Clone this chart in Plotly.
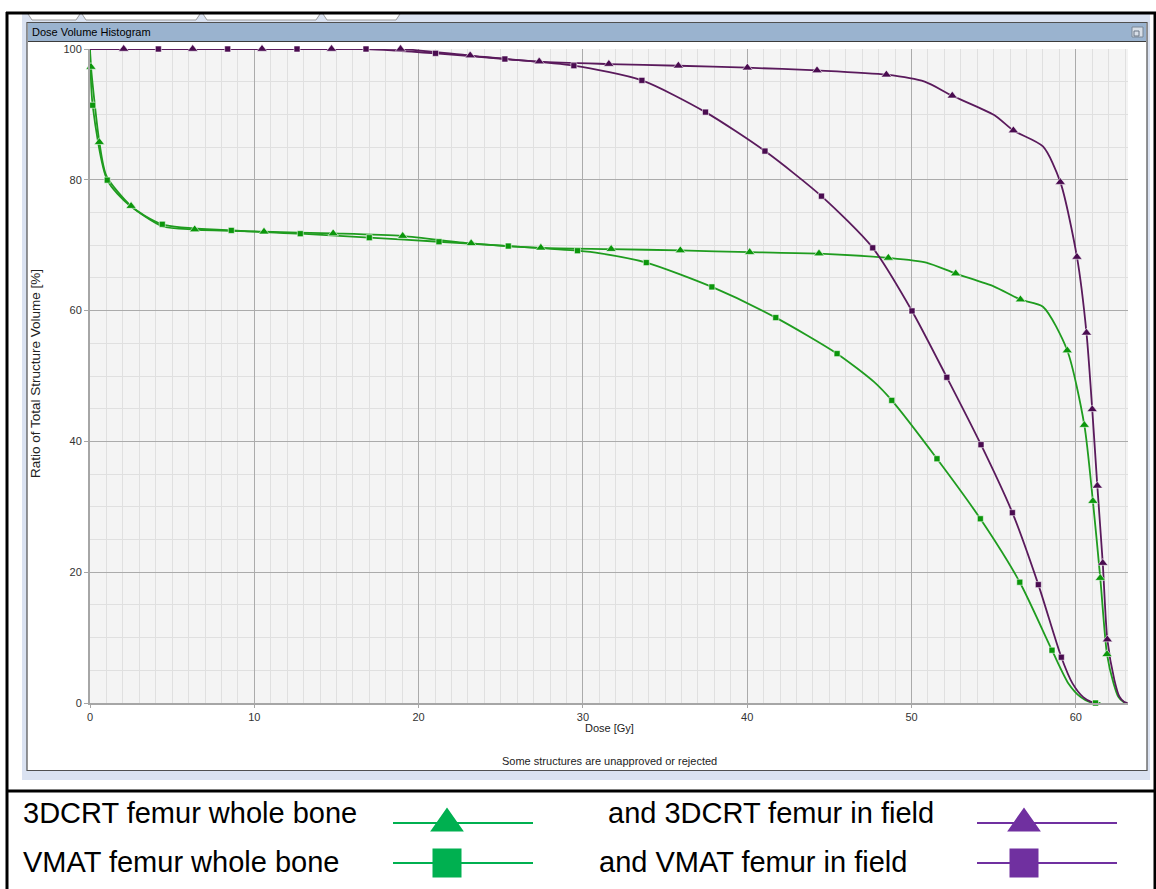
import plotly.graph_objects as go

# ---------------- data ----------------
# 3DCRT femur whole bone (green, triangles)
crt_whole_mk_dose = [0.06, 0.57, 2.5, 6.37, 10.59, 14.8, 19.03, 23.2, 27.44, 31.72, 35.93, 40.15,
                     44.37, 48.59, 52.69, 56.63, 59.48, 60.52, 61.04, 61.49, 61.9]
crt_whole_mk_vol = [97.25, 85.75, 75.98, 72.4, 72.06, 71.8, 71.4, 70.28, 69.6, 69.4, 69.2, 68.93,
                    68.72, 68.06, 65.66, 61.68, 53.9, 42.5, 30.87, 19.1, 7.45]
crt_whole_ex_dose = [0.0, 1.0, 4.4, 50.9, 55.03, 58.0, 62.3, 62.6, 62.9, 63.1]
crt_whole_ex_vol = [100.0, 80.6, 72.9, 67.35, 63.67, 60.6, 3.0, 0.9, 0.15, 0.0]

# VMAT femur whole bone (green, squares)
vmat_whole_mk_dose = [0.16, 1.05, 4.4, 8.6, 12.8, 17.0, 21.24, 25.46, 29.67, 33.86, 37.85, 41.74,
                      45.47, 48.8, 51.55, 54.19, 56.59, 58.55, 61.2]
vmat_whole_mk_vol = [91.4, 79.95, 73.2, 72.26, 71.76, 71.15, 70.53, 69.87, 69.16, 67.34, 63.62, 58.93,
                     53.42, 46.27, 37.35, 28.17, 18.47, 8.07, 0.0]
vmat_whole_ex_dose = [0.0, 2.4, 31.06, 47.72, 59.55, 60.3, 60.9, 61.5]
vmat_whole_ex_vol = [100.0, 76.1, 68.75, 49.1, 3.0, 0.9, 0.1, 0.0]

# 3DCRT femur in field (purple, triangles)
crt_field_mk_dose = [2.05, 6.25, 10.47, 14.7, 18.9, 23.14, 27.34, 31.58, 35.81, 40.01, 44.25, 48.47,
                     52.48, 56.2, 59.06, 60.07, 60.65, 61.0, 61.31, 61.64, 61.92]
crt_field_mk_vol = [100.0, 100.0, 100.0, 100.0, 100.0, 99.0, 98.07, 97.7, 97.44, 97.14, 96.72, 96.07,
                    92.85, 87.54, 79.64, 68.2, 56.6, 44.9, 33.2, 21.4, 9.7]
crt_field_ex_dose = [0.0, 50.8, 55.03, 58.0, 62.35, 62.65, 62.95, 63.15]
crt_field_ex_vol = [100.0, 95.0, 89.9, 85.1, 3.5, 1.0, 0.15, 0.0]

# VMAT femur in field (purple, squares)
vmat_field_mk_dose = [4.16, 8.38, 12.6, 16.8, 21.03, 25.25, 29.45, 33.59, 37.46, 41.08, 44.52, 47.64,
                      50.03, 52.15, 54.23, 56.14, 57.72, 59.12]
vmat_field_mk_vol = [100.0, 100.0, 100.0, 100.0, 99.34, 98.47, 97.45, 95.2, 90.35, 84.39, 77.5, 69.6,
                     59.95, 49.8, 39.5, 29.1, 18.1, 7.0]
vmat_field_ex_dose = [0.0, 59.8, 60.45, 61.0, 61.2]
vmat_field_ex_vol = [100.0, 3.0, 0.9, 0.1, 0.0]

x_tick_vals = [0, 10, 20, 30, 40, 50, 60]
y_tick_vals = [0, 20, 40, 60, 80, 100]

legend_labels = ["3DCRT femur whole bone", "VMAT femur whole bone",
                 "and 3DCRT femur in field", "and VMAT femur in field"]

# ---------------- styling ----------------
GREEN_LINE = "#1f9c1f"
GREEN_MK = "#0b960b"
PURPLE_LINE = "#5a1a5c"
PURPLE_MK = "#4a0c50"
LEG_GREEN = "#00b050"
LEG_PURPLE = "#7030a0"
FONT = "Liberation Sans, Arial, sans-serif"

W, H = 1156, 889
L, R, T, B = 90, 28, 49, 186
PW = W - L - R
PH = H - T - B


def px(x):
    return (x - L) / PW


def py(y):
    return (H - B - y) / PH


def merged(d1, v1, d2, v2):
    pts = sorted(zip(list(d1) + list(d2), list(v1) + list(v2)))
    return [p[0] for p in pts], [p[1] for p in pts]


series = [
    (crt_whole_mk_dose, crt_whole_mk_vol, crt_whole_ex_dose, crt_whole_ex_vol, GREEN_LINE, GREEN_MK, "triangle-up", 9),
    (vmat_whole_mk_dose, vmat_whole_mk_vol, vmat_whole_ex_dose, vmat_whole_ex_vol, GREEN_LINE, GREEN_MK, "square", 6),
    (crt_field_mk_dose, crt_field_mk_vol, crt_field_ex_dose, crt_field_ex_vol, PURPLE_LINE, PURPLE_MK, "triangle-up", 9),
    (vmat_field_mk_dose, vmat_field_mk_vol, vmat_field_ex_dose, vmat_field_ex_vol, PURPLE_LINE, PURPLE_MK, "square", 6),
]

fig = go.Figure()
for mkd, mkv, exd, exv, lc, mc, sym, sz in series:
    xd, yd = merged(mkd, mkv, exd, exv)
    fig.add_trace(go.Scatter(x=xd, y=yd, mode="lines",
                             line=dict(color=lc, width=1.8, shape="spline", smoothing=0.7),
                             showlegend=False, hoverinfo="skip"))
for mkd, mkv, exd, exv, lc, mc, sym, sz in series:
    fig.add_trace(go.Scatter(x=mkd, y=mkv, mode="markers", cliponaxis=False,
                             marker=dict(symbol=sym, size=sz, color=mc,
                                         line=dict(color="rgba(255,255,255,0.7)", width=0.8)),
                             showlegend=False))

shapes = []
ann = []


def rect(x0, y0, x1, y1, fill=None, line=None, lw=1):
    shapes.append(dict(type="rect", xref="paper", yref="paper",
                       x0=px(x0), x1=px(x1), y0=py(y0), y1=py(y1),
                       fillcolor=fill if fill else "rgba(0,0,0,0)",
                       line=dict(color=line if line else "rgba(0,0,0,0)", width=lw),
                       layer="below"))


def hline(x0, x1, y, color, w):
    shapes.append(dict(type="line", xref="paper", yref="paper",
                       x0=px(x0), x1=px(x1), y0=py(y), y1=py(y),
                       line=dict(color=color, width=w), layer="above"))


def vline(x, y0, y1, color, w):
    shapes.append(dict(type="line", xref="paper", yref="paper",
                       x0=px(x), x1=px(x), y0=py(y0), y1=py(y1),
                       line=dict(color=color, width=w), layer="above"))


# screenshot surroundings (strips that do not cover the plot area)
STRIP = "#dae2f1"
rect(22, 14, 1150, 23, fill=STRIP)
rect(22, 23, 27, 780, fill=STRIP)
rect(1147, 23, 1150, 780, fill=STRIP)
rect(22, 771, 1150, 780, fill=STRIP)
# tabs
for a, b in [(28, 80), (82, 200), (203, 320), (323, 400)]:
    shapes.append(dict(type="path", xref="paper", yref="paper",
                       path="M %f %f L %f %f L %f %f L %f %f" % (px(a), py(14), px(a + 4), py(20),
                                                               px(b - 4), py(20), px(b), py(14)),
                       line=dict(color="#9a9a9a", width=1), fillcolor="#ffffff", layer="below"))
# window frame + title bar
rect(28, 23, 1146, 41, fill="#9ab3cf")
hline(28, 1146, 41.5, "#3c3c3c", 1)
rect(27, 22.5, 1147, 770.5, line="#505050", lw=1.2)
# restore icon
rect(1132, 27, 1143, 37, fill="#d8dfe8", line="#7a8796", lw=1)
rect(1134, 31, 1139, 36, line="#6a7686", lw=1)

# outer table borders
vline(7, 12, 889, "#000000", 3)
vline(1155, 12, 889, "#000000", 3)
hline(6, 1156, 13, "#000000", 3)
hline(6, 1156, 791, "#000000", 3)

# ---------- legend table ----------
leg_rows = [823, 863]
glyphs = [
    (393, 533, 447, leg_rows[0], LEG_GREEN, "tri"),
    (393, 533, 447, leg_rows[1], LEG_GREEN, "sq"),
    (977, 1117, 1024, leg_rows[0], LEG_PURPLE, "tri"),
    (977, 1117, 1024, leg_rows[1], LEG_PURPLE, "sq"),
]
for x0, x1, cx, cy, col, kind in glyphs:
    hline(x0, x1, cy, col, 1.8)
    if kind == "tri":
        shapes.append(dict(type="path", xref="paper", yref="paper",
                           path="M %f %f L %f %f L %f %f Z" % (px(cx - 14), py(cy + 7), px(cx), py(cy - 13),
                                                              px(cx + 14), py(cy + 7)),
                           fillcolor=col, line=dict(color=col, width=3), layer="above"))
    else:
        shapes.append(dict(type="rect", xref="paper", yref="paper",
                           x0=px(cx - 13.5), x1=px(cx + 13.5), y0=py(cy - 13.5), y1=py(cy + 13.5),
                           fillcolor=col, line=dict(color=col, width=2), layer="above"))

leg_pos = [(21, 813), (21, 862), (606, 813), (597, 862)]
for (x, y), lab in zip(leg_pos, legend_labels):
    ann.append(dict(xref="paper", yref="paper", x=px(x), y=py(y), xanchor="left", yanchor="middle",
                    text=lab, showarrow=False, font=dict(family=FONT, size=29, color="#000000")))

# ---------- chart texts ----------
ann.append(dict(xref="paper", yref="paper", x=px(30), y=py(32), xanchor="left", yanchor="middle",
                text="Dose Volume Histogram", showarrow=False, font=dict(family=FONT, size=11, color="#000")))
ann.append(dict(xref="paper", yref="paper", x=px(609), y=py(727.5), xanchor="center", yanchor="middle",
                text="Dose [Gy]", showarrow=False, font=dict(family=FONT, size=11, color="#222")))
ann.append(dict(xref="paper", yref="paper", x=px(609), y=py(761), xanchor="center", yanchor="middle",
                text="Some structures are unapproved or rejected", showarrow=False,
                font=dict(family=FONT, size=11, color="#222")))
ann.append(dict(xref="paper", yref="paper", x=px(35), y=py(374), xanchor="center", yanchor="middle",
                text="Ratio of Total Structure Volume [%]", textangle=-90, showarrow=False,
                font=dict(family=FONT, size=13.5, color="#222")))

x_max = (W - R - L) / 16.43

fig.update_layout(
    width=W, height=H,
    margin=dict(l=L, r=R, t=T, b=B, pad=0),
    paper_bgcolor="#ffffff",
    plot_bgcolor="#f4f4f4",
    shapes=shapes,
    annotations=ann,
    showlegend=False,
    xaxis=dict(range=[0, x_max], tickvals=x_tick_vals, ticktext=[str(v) for v in x_tick_vals],
               showgrid=True, gridcolor="#ababab", gridwidth=1,
               minor=dict(dtick=1, tick0=0, showgrid=True, gridcolor="#e0e0e0", gridwidth=1),
               showline=True, linecolor="#a6a6a6", linewidth=2,
               ticks="outside", ticklen=3, tickcolor="#a6a6a6",
               tickfont=dict(family=FONT, size=11, color="#333"),
               zeroline=False, fixedrange=True),
    yaxis=dict(range=[0, 100], tickvals=y_tick_vals, ticktext=[str(v) for v in y_tick_vals],
               showgrid=True, gridcolor="#ababab", gridwidth=1,
               minor=dict(dtick=5, tick0=0, showgrid=True, gridcolor="#e0e0e0", gridwidth=1),
               showline=True, linecolor="#a6a6a6", linewidth=2,
               ticks="outside", ticklen=4, tickcolor="#a6a6a6",
               tickfont=dict(family=FONT, size=11, color="#333"),
               zeroline=False, fixedrange=True),
)

fig.write_html("out.html")
